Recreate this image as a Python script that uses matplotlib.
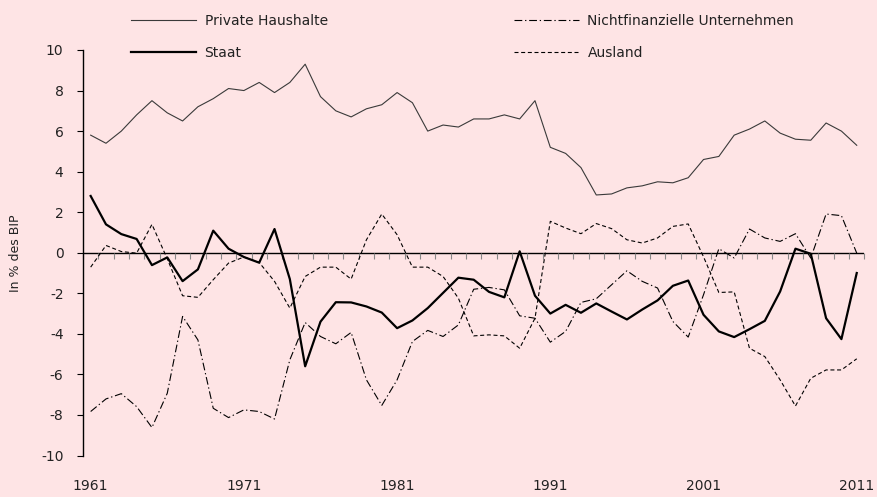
import numpy as np
import matplotlib
matplotlib.use('Agg')
import matplotlib.pyplot as plt

plt.rcParams['axes.unicode_minus'] = False

years = np.arange(1961, 2012)

private_haushalte = [5.8, 5.4, 6.0, 6.8, 7.5, 6.9, 6.5, 7.2, 7.6, 8.1,
                     8.0, 8.4, 7.9, 8.4, 9.3, 7.7, 7.0, 6.7, 7.1, 7.3,
                     7.9, 7.4, 6.0, 6.3, 6.2, 6.6, 6.6, 6.8, 6.6, 7.5,
                     5.2, 4.9, 4.2, 2.85, 2.9, 3.2, 3.3, 3.5, 3.45, 3.7,
                     4.6, 4.75, 5.8, 6.1, 6.5, 5.9, 5.6, 5.55, 6.4, 6.0,
                     5.3]

unternehmen = [-7.83, -7.21, -6.95, -7.59, -8.62, -6.93, -3.14, -4.3, -7.67, -8.13,
               -7.75, -7.83, -8.2, -5.28, -3.44, -4.13, -4.49, -3.93, -6.27, -7.53,
               -6.27, -4.38, -3.83, -4.13, -3.56, -1.8, -1.71, -1.83, -3.11, -3.23,
               -4.41, -3.88, -2.45, -2.27, -1.58, -0.89, -1.41, -1.74, -3.39, -4.16,
               -2.07, 0.2, -0.26, 1.17, 0.73, 0.56, 0.94, -0.26, 1.91, 1.83,
               -0.02]

staat = [2.8, 1.4, 0.92, 0.68, -0.61, -0.23, -1.4, -0.82, 1.09, 0.2,
         -0.21, -0.49, 1.17, -1.3, -5.6, -3.4, -2.44, -2.45, -2.65, -2.95,
         -3.72, -3.34, -2.73, -1.98, -1.23, -1.33, -1.93, -2.2, 0.07, -2.12,
         -3.0, -2.57, -2.96, -2.5, -2.9, -3.29, -2.8, -2.35, -1.63, -1.37,
         -3.06, -3.88, -4.16, -3.77, -3.36, -1.91, 0.2, -0.05, -3.23, -4.26,
         -1.0]

ausland = [-0.71, 0.36, 0.06, -0.02, 1.4, -0.3, -2.12, -2.2, -1.33, -0.51,
           -0.21, -0.48, -1.41, -2.73, -1.17, -0.71, -0.71, -1.3, 0.64, 1.91,
           0.89, -0.71, -0.71, -1.17, -2.24, -4.1, -4.05, -4.1, -4.71, -3.23,
           1.55, 1.22, 0.94, 1.44, 1.19, 0.64, 0.48, 0.73, 1.3, 1.42,
           -0.2, -1.96, -1.93, -4.71, -5.12, -6.27, -7.56, -6.19, -5.78, -5.78,
           -5.23]

bg = '#FEE4E5'
fig = plt.figure(figsize=(8.77, 4.97), dpi=100, facecolor=bg)
ax = fig.add_axes([83 / 877, 1 - 455.5 / 497, (864.4 - 83) / 877, 405.5 / 497])
ax.set_facecolor(bg)

# zero line with category boundary ticks
boundaries = np.append(years - 0.5, years[-1] + 0.5)
ax.axhline(0, color='black', lw=1.0, zorder=1)
ax.plot(boundaries, np.zeros_like(boundaries), ls='none', marker=3, ms=4,
        mew=0.8, color='#888888', zorder=1, clip_on=False)

ax.plot(years, private_haushalte, color='#3a3a3a', lw=0.8, label='Private Haushalte')
ax.plot(years, staat, color='black', lw=1.6, label='Staat')
ax.plot(years, unternehmen, color='black', lw=0.8, dashes=(7, 2.5, 1.2, 2.5),
        label='Nichtfinanzielle Unternehmen')
ax.plot(years, ausland, color='black', lw=0.8, dashes=(3.6, 2.4), label='Ausland')

ax.set_xlim(1960.5, 2011.5)
ax.set_ylim(-10, 10)
ax.set_yticks(np.arange(-10, 11, 2))
ax.set_xticks([1961, 1971, 1981, 1991, 2001, 2011])
ax.tick_params(axis='x', length=0, pad=17, labelsize=10, colors='#222222')
ax.tick_params(axis='y', length=4, width=0.8, direction='out', labelsize=10,
               color='black', labelcolor='#222222', pad=10)
for s in ['top', 'right', 'bottom']:
    ax.spines[s].set_visible(False)
ax.spines['left'].set_linewidth(1.0)
ax.set_ylabel('In % des BIP', fontsize=9, color='#222222', labelpad=14)

handles, labels = ax.get_legend_handles_labels()
fig.legend(handles[-4:], labels[-4:], loc='upper left',
           bbox_to_anchor=(131 / 877, 1 - 14 / 497), ncol=2,
           frameon=False, fontsize=10, handlelength=4.7, handletextpad=0.6,
           columnspacing=13.4, labelspacing=1.32, borderpad=0, borderaxespad=0,
           labelcolor='#222222')

fig.savefig('out.png', dpi=100, facecolor=bg)
